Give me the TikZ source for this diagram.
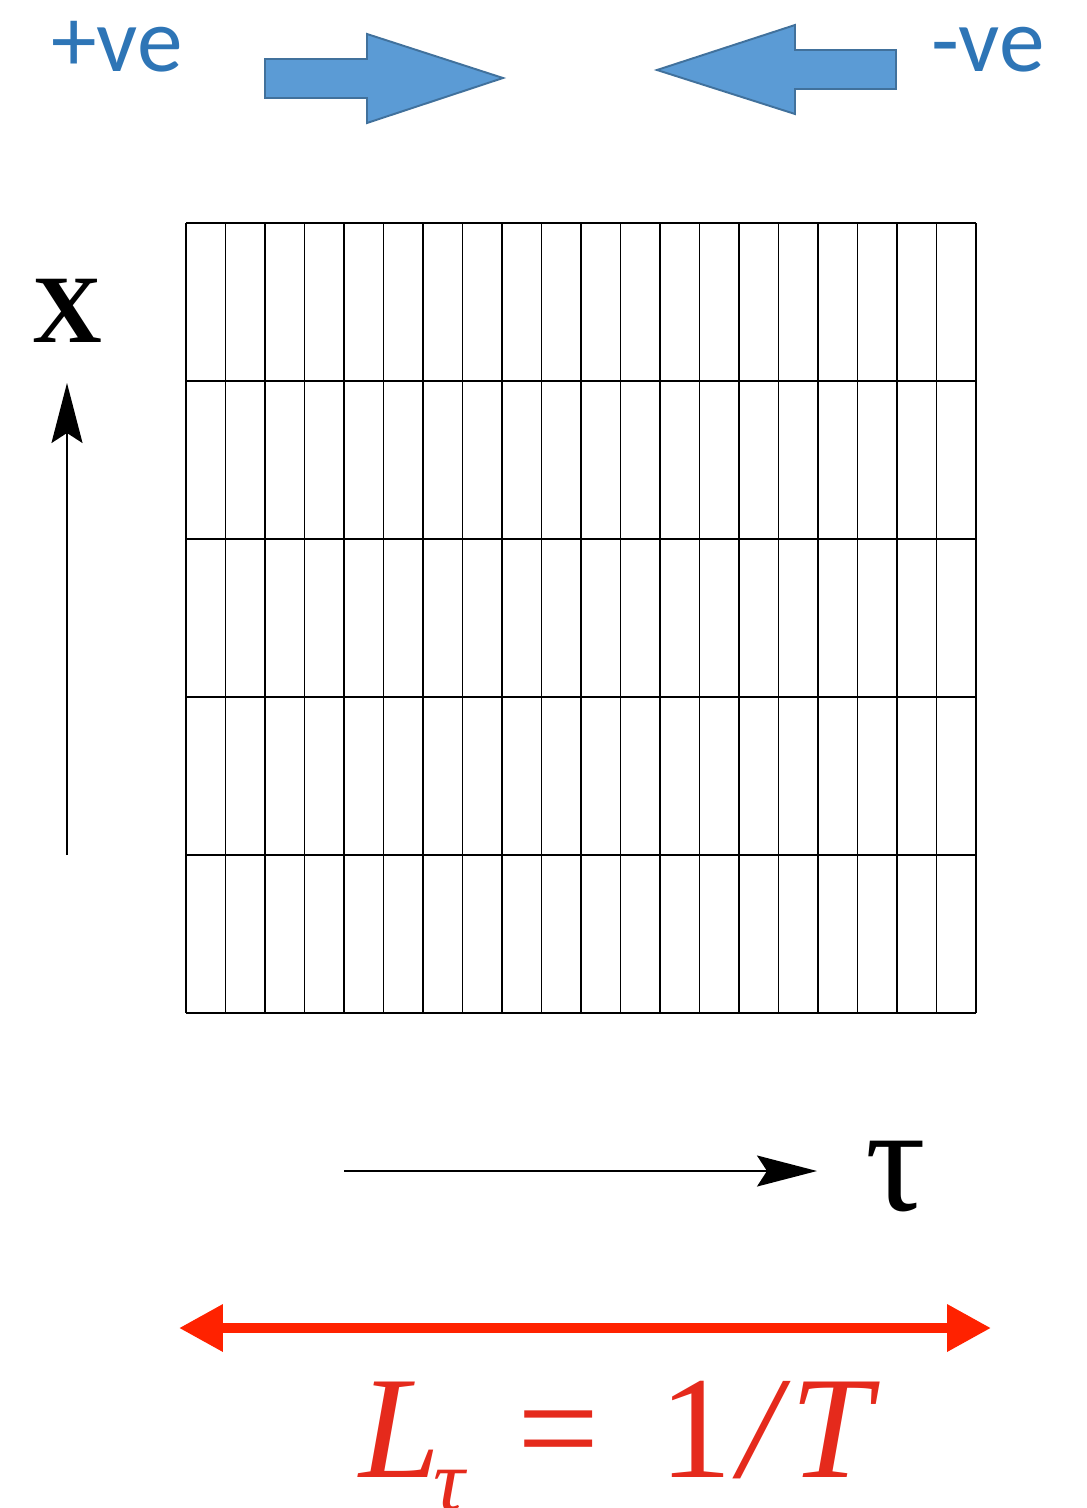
\documentclass[tikz,border=0pt]{standalone}
\usepackage{fontspec}
\usepackage{tikz}
\usetikzlibrary{arrows.meta, positioning}
\newfontfamily\calibrifont{Carlito}
\newfontfamily\timesfont{Liberation Serif}
\definecolor{ArrowBlue}{HTML}{5B9BD5}
\definecolor{ArrowEdge}{HTML}{41719C}
\definecolor{LabelBlue}{HTML}{2E75B6}
\definecolor{BrightRed}{HTML}{FF2200}
\definecolor{FormulaRed}{HTML}{E52A1C}

\begin{document}
\begin{tikzpicture}[x=0.02cm, y=-0.02cm,
    gridline/.style={black, line width=1.1pt},
    blockarrow/.style={fill=ArrowBlue, draw=ArrowEdge, line width=1.1pt, line join=miter},
    axisarrow/.style={black, line width=1.1pt,
      -{Stealth[length=1.2cm, width=0.62cm, inset=0.2cm]}},
    spanarrow/.style={BrightRed, line width=0.2cm,
      {Triangle[length=0.88cm, width=0.9cm]}-{Triangle[length=0.88cm, width=0.9cm]}}]
  \useasboundingbox (0,0) rectangle (1087,1508);

  % direction labels and block arrows
  \node[anchor=base west, inner sep=0pt, text=LabelBlue] (plusve) at (51,71)
    {\calibrifont\fontsize{52}{52}\selectfont +ve};
  \node[anchor=base east, inner sep=0pt, text=LabelBlue] (minusve) at (1045,71)
    {\calibrifont\fontsize{52}{52}\selectfont -ve};
  \filldraw[blockarrow] (265,59) -- (367,59) -- (367,34) -- (503,78) -- (367,123)
    -- (367,98) -- (265,98) -- cycle;
  \filldraw[blockarrow] (896,50) -- (795,50) -- (795,25) -- (657,70) -- (795,114)
    -- (795,89) -- (896,89) -- cycle;

  % lattice
  \foreach \i in {0,...,20}
    \draw[gridline] ({186+39.5*\i},223) -- ({186+39.5*\i},1013);
  \foreach \j in {0,...,5}
    \draw[gridline] (186,{223+158*\j}) -- (976,{223+158*\j});

  % space axis
  \node[anchor=base, inner sep=0pt] (xlabel) at (67,342)
    {\timesfont\fontsize{55}{55}\selectfont\bfseries X};
  \coordinate (xfoot) at (67,855);
  \coordinate (xtip) at (67,383);
  \draw[axisarrow] (xfoot) -- (xtip);

  % time axis
  \coordinate (taufoot) at (344,1171);
  \coordinate (tautip) at (817,1171);
  \draw[axisarrow] (taufoot) -- (tautip);
  \node[anchor=base, inner sep=0pt] (taulabel) at (896,1210)
    {\timesfont\fontsize{86}{86}\selectfont τ};

  % extent
  \coordinate (spanleft) at (179,1328);
  \coordinate (spanright) at (991,1328);
  \draw[spanarrow] (spanleft) -- (spanright);
  \node[anchor=base west, inner sep=0pt, text=FormulaRed] (extent) at (359,1477)
    {\timesfont\fontsize{83}{83}\selectfont\itshape L\hspace{-4pt}\raisebox{-19pt}{\fontsize{50}{50}\selectfont τ}\hspace{30pt}\upshape=\hspace{34pt}1\hspace{4pt}\itshape/\hspace{6pt}T};
\end{tikzpicture}
\end{document}
